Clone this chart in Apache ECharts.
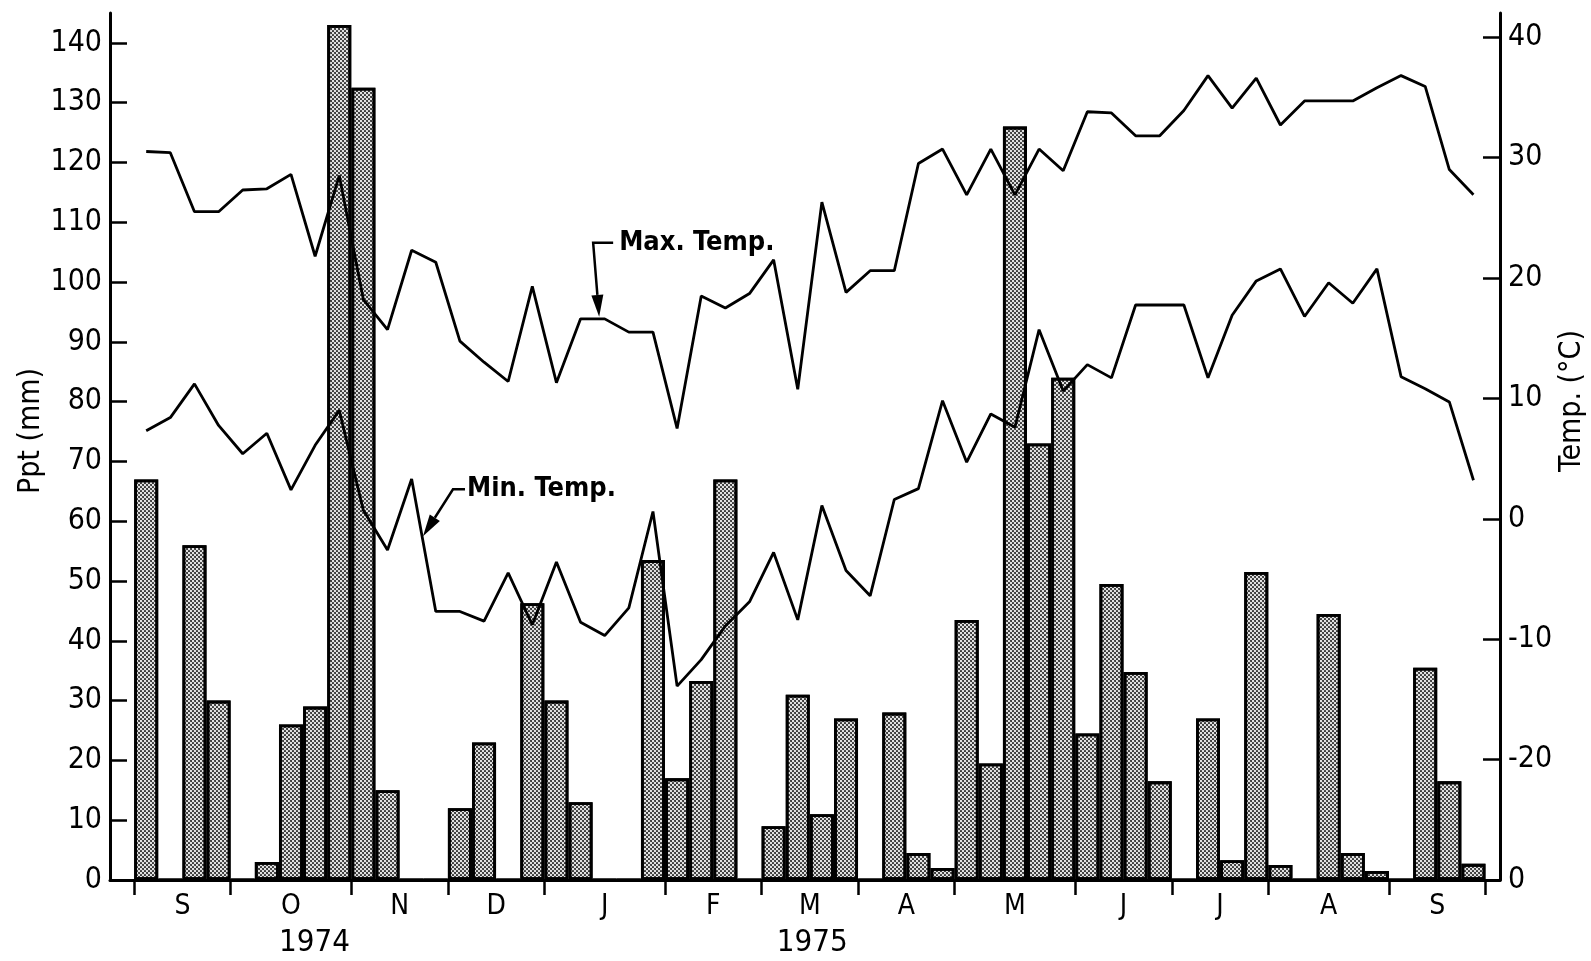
<!DOCTYPE html>
<html><head><meta charset="utf-8">
<script src="https://cdn.jsdelivr.net/npm/echarts@6/dist/echarts.min.js"></script>
<style>html,body{margin:0;padding:0;background:#fff}#c{width:1591px;height:961px}</style>
</head><body><div id="c"></div>
<script>
// ---- data ----
const months = ['S','O','N','D','J','F','M','A','M','J','J','A','S'];
const weeksPerMonth = [4,5,4,4,5,4,4,4,5,4,4,5,4];
const years = ['1974','1975'];
const precipitation = [67,0,56,30, 0,3,26,29,143, 132.5,15,0,0, 12,23,0,46.3, 30,13,0,0,53.5, 17,33.3,67,0, 9,31,11,27, 0,28,4.5,2, 43.5,19.5,126,73,84, 24.5,49.5,34.8,16.5, 0,27,3.3,51.5, 2.5,0,44.5,4.5,1.5, 0,35.5,16.5,2.7];
const maxTemp = [30.5,30.4,25.5,25.5, 27.3,27.4,28.6,21.8,28.5, 18.2,15.7,22.3,21.3, 14.75,13.0,11.4,19.3, 11.3,16.6,16.6,15.5,15.5, 7.5,18.5,17.5,18.7, 21.5,10.75,26.3,18.8, 20.6,20.6,29.5,30.7, 26.9,30.7,26.9,30.7,28.9, 33.8,33.7,31.8,31.8, 33.9,36.8,34.1,36.6, 32.7,34.7,34.7,34.7,35.8, 36.8,35.9,29.0,26.9];
const minTemp = [7.3,8.4,11.2,7.75, 5.4,7.1,2.4,6.1,9.0, 0.7,-2.6,3.3,-7.7, -7.7,-8.5,-4.5,-8.8, -3.6,-8.6,-9.7,-7.4,0.6, -13.9,-11.7,-8.9,-6.9, -2.8,-8.4,1.1,-4.3, -6.4,1.6,2.5,9.8, 4.7,8.7,7.6,15.7,10.6, 12.8,11.7,17.75,17.75, 17.75,11.7,16.9,19.75, 20.75,16.8,19.6,17.9,20.75, 11.8,10.8,9.7,3.2];
const pptTicks = [0,10,20,30,40,50,60,70,80,90,100,110,120,130,140];
const tempTickValues = [-20,-10,0,10,20,30,40];
const tempLabelValues = [-30,-20,-10,0,10,20,30,40];
const tempLabelTexts = ['0','-20','-10','0','10','20','30','40'];

// ---- derived ----
const FONT = '"Liberation Sans Narrow","DejaVu Sans Condensed","Liberation Sans",Arial,sans-serif';
const boundaries = [0];
weeksPerMonth.forEach(n => boundaries.push(boundaries[boundaries.length-1] + n));
const mids = weeksPerMonth.map((n,i) => boundaries[i] + n/2);
const yearAt = [7.47, 28.1];
const pptData = precipitation.map((v,i) => [i+0.5, v]);
const maxData = maxTemp.map((v,i) => [i+0.5, v]);
const minData = minTemp.map((v,i) => [i+0.5, v]);

const chart = echarts.init(document.getElementById('c'), null, {renderer:'canvas'});
const axisLine = {show:true, onZero:false, lineStyle:{color:'#000', width:3}};
const option = {
  backgroundColor:'#fff',
  animation:false,
  grid:{left:110, right:91, top:13, bottom:81},
  xAxis:[{
    type:'value', min:-1, max:56.6, position:'bottom',
    axisLine: axisLine,
    axisTick:{show:true, customValues: boundaries, length:15, lineStyle:{color:'#000', width:2.5}},
    axisLabel:{show:true, customValues: mids, margin:13, color:'#000', fontSize:28, fontFamily:FONT,
      formatter: v => { const k = mids.findIndex(m => Math.abs(m - v) < 1e-6); return k >= 0 ? months[k] : ''; }},
    splitLine:{show:false}
  },{
    type:'value', min:-1, max:56.6, position:'bottom', offset:0,
    axisLine:{show:false}, axisTick:{show:false},
    axisLabel:{show:true, customValues: yearAt, margin:47, color:'#000', fontSize:31, fontFamily:FONT,
      formatter: v => { const k = yearAt.findIndex(m => Math.abs(m - v) < 1e-6); return k >= 0 ? years[k] : ''; }},
    splitLine:{show:false}
  }],
  yAxis:[{
    type:'value', min:0, max:145, position:'left',
    axisLine: axisLine,
    axisTick:{show:true, inside:true, customValues: pptTicks, length:17, lineStyle:{color:'#000', width:2.5}},
    axisLabel:{show:true, customValues: pptTicks, margin:8, color:'#000', fontSize:30, fontFamily:FONT},
    splitLine:{show:false}
  },{
    type:'value', min:-30, max:42, position:'right',
    axisLine: axisLine,
    axisTick:{show:true, inside:true, customValues: tempTickValues, length:17, lineStyle:{color:'#000', width:2.5}},
    axisLabel:{show:true, customValues: tempLabelValues, margin:8, color:'#000', fontSize:30, fontFamily:FONT,
      formatter: v => { const k = tempLabelValues.indexOf(v); return k >= 0 ? tempLabelTexts[k] : ''; }},
    splitLine:{show:false}
  }],
  series:[{
    type:'bar', name:'Ppt', xAxisIndex:0, yAxisIndex:0, data: pptData, barWidth:24,
    itemStyle:{color:'#e2e2e2', borderColor:'#000', borderWidth:2.8,
      decal:{symbol:'circle', symbolSize:1.05, dashArrayX:[[2,2],[0,2,2,0]], dashArrayY:[2,0], color:'rgba(0,0,0,0.8)'}},
    z:2
  },{
    type:'line', name:'Max. Temp.', xAxisIndex:0, yAxisIndex:1, data:maxData, showSymbol:false,
    lineStyle:{color:'#000', width:2.8}, z:5
  },{
    type:'line', name:'Min. Temp.', xAxisIndex:0, yAxisIndex:1, data:minData, showSymbol:false,
    lineStyle:{color:'#000', width:2.8}, z:5
  }]
};
chart.setOption(option);

function interp(arr, x){ const i = Math.floor(x - 0.5); const f = (x - 0.5) - i; return arr[i] + f*(arr[i+1]-arr[i]); }
function px(x, t){ return chart.convertToPixel({xAxisIndex:0, yAxisIndex:1}, [x, t]); }
function annotation(label, tip, cornerOff, startOff, textOff){
  const corner = [tip[0]+cornerOff[0], tip[1]+cornerOff[1]];
  const start = [tip[0]+startOff[0], tip[1]+startOff[1]];
  const dx = tip[0]-corner[0], dy = tip[1]-corner[1], L = Math.hypot(dx,dy);
  const ux = dx/L, uy = dy/L, nx = -uy, ny = ux;
  const al = 22, aw = 6;
  const base = [tip[0]-ux*al, tip[1]-uy*al];
  return [
    {type:'polyline', shape:{points:[start, corner, base]}, style:{stroke:'#000', lineWidth:2.5, fill:null}, z:10},
    {type:'polygon', shape:{points:[tip, [base[0]+nx*aw, base[1]+ny*aw], [base[0]-nx*aw, base[1]-ny*aw]]}, style:{fill:'#000'}, z:10},
    {type:'text', x: tip[0]+textOff[0], y: tip[1]+textOff[1], z:10,
      style:{text:label, fill:'#000', font:'bold 27px ' + FONT, align:'left', verticalAlign:'middle'}}
  ];
}
const maxTipX = 19.27, minTipX = 11.97;
const maxTip = px(maxTipX, interp(maxTemp, maxTipX)); maxTip[1] -= 2;
const minTip = px(minTipX, interp(minTemp, minTipX)); minTip[1] -= 5;
const graphics = [].concat(
  annotation('Max. Temp.', maxTip, [-6,-74], [14,-74], [20,-74]),
  annotation('Min. Temp.', minTip, [30,-47], [42,-47], [44,-47]),
  [
    {type:'text', x:31, y:431, rotation:Math.PI/2, style:{text:'Ppt (mm)', fill:'#000', font:'30px ' + FONT, align:'center', verticalAlign:'middle'}},
    {type:'text', x:1572, y:401, rotation:Math.PI/2, style:{text:'Temp. (°C)', fill:'#000', font:'30px ' + FONT, align:'center', verticalAlign:'middle'}}
  ]
);
chart.setOption({graphic: graphics});
</script>
</body></html>
